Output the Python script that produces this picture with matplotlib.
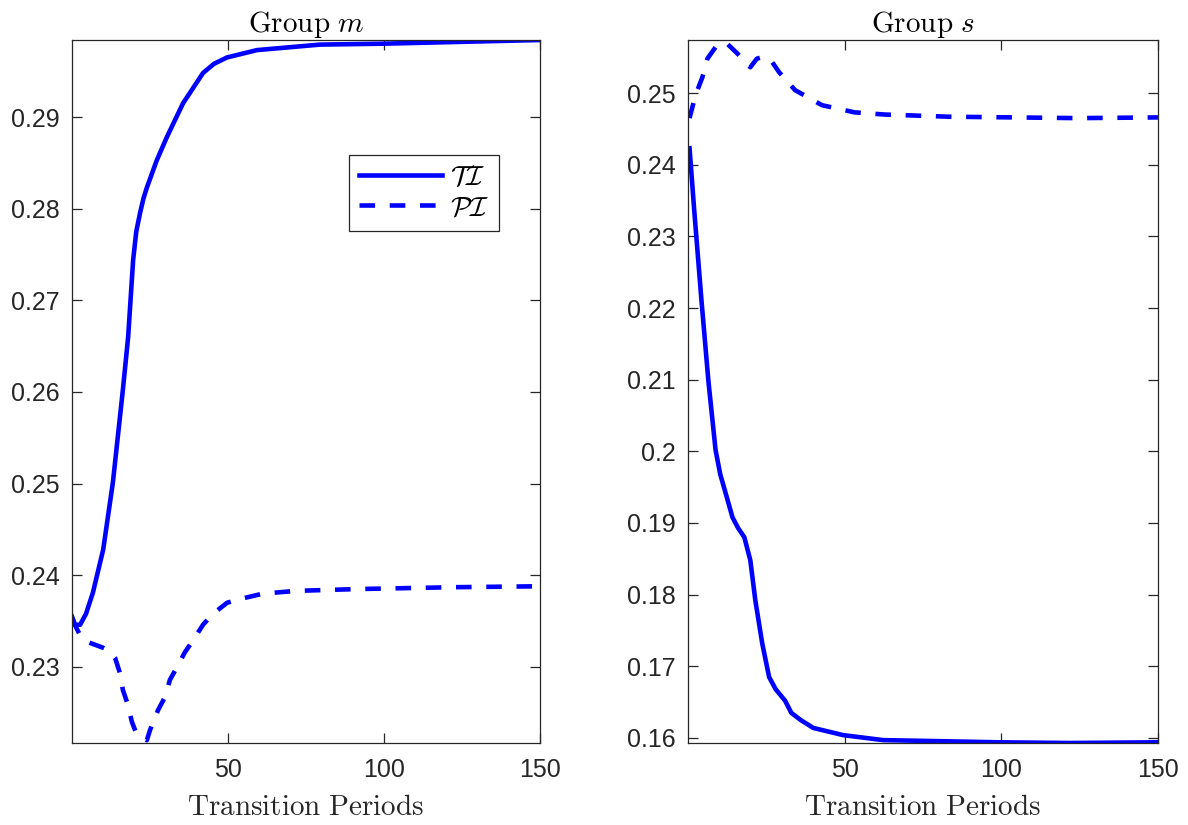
import matplotlib.pyplot as plt
from matplotlib.ticker import FuncFormatter

plt.rcParams['font.family'] = ['Liberation Sans', 'DejaVu Sans']
plt.rcParams['mathtext.fontset'] = 'cm'

# Group m
m_ti_x = [0, 1, 2.6, 4.5, 6.7, 10, 13.1, 16.3, 18, 19.6, 20.6, 21.8, 22.9, 24, 27.2,
          30.4, 35.6, 42, 45.5, 49.7, 59.3, 79.5, 100, 150]
m_ti_y = [0.2355, 0.2346, 0.2346, 0.2358, 0.2381, 0.2428, 0.2501, 0.2602, 0.2660,
          0.2744, 0.2775, 0.2795, 0.2811, 0.2823, 0.2853, 0.2878, 0.2915, 0.2948,
          0.2958, 0.2965, 0.2973, 0.2979, 0.2980, 0.2984]
m_pi_x = [0, 3, 5.1, 9.9, 12.2, 13.8, 15.4, 16.3, 17.9, 19.2, 20.8, 24, 25, 27.6, 29.8,
          31.4, 33.7, 36.2, 38.8, 42, 44.9, 49.7, 53.8, 61.2, 72, 92, 123, 150]
m_pi_y = [0.2352, 0.2332, 0.2327, 0.2321, 0.2317, 0.2310, 0.2293, 0.2275, 0.2259,
          0.2240, 0.2226, 0.2220, 0.2231, 0.2253, 0.2267, 0.2286, 0.2300, 0.2316,
          0.2329, 0.2346, 0.2357, 0.2370, 0.2374, 0.2380, 0.2383, 0.2385, 0.2387,
          0.2388]

# Group s
s_ti_x = [0.5, 2, 4.3, 6.5, 8.8, 10.3, 12, 14.2, 16, 18, 19.9, 21.5, 23.7, 25.9, 28,
          31, 33, 36, 40, 49.5, 62.3, 75, 98.7, 122, 150]
s_ti_y = [0.2423, 0.2336, 0.2211, 0.2099, 0.2002, 0.1968, 0.1942, 0.1908, 0.1893,
          0.1880, 0.1848, 0.1792, 0.1732, 0.1685, 0.1668, 0.1652, 0.1635, 0.1625,
          0.1614, 0.1604, 0.1597, 0.1596, 0.1594, 0.1593, 0.1594]
s_pi_x = [0.5, 2.4, 4.6, 6.2, 8.8, 12, 15.8, 19.9, 22, 24.3, 26.9, 29.1, 34.2, 42.8,
          53.2, 62.8, 83, 124.4, 150]
s_pi_y = [0.2465, 0.2497, 0.2522, 0.2548, 0.2564, 0.2571, 0.2555, 0.2536, 0.2548,
          0.2551, 0.2543, 0.2529, 0.2504, 0.2483, 0.2473, 0.2470, 0.2467, 0.2465,
          0.2466]

m_yticks = [0.23, 0.24, 0.25, 0.26, 0.27, 0.28, 0.29]
s_yticks = [0.16, 0.17, 0.18, 0.19, 0.2, 0.21, 0.22, 0.23, 0.24, 0.25]
xticks = [50, 100, 150]

fig = plt.figure(figsize=(11.88, 8.25), dpi=100)
ax1 = fig.add_axes([0.0606, 0.0994, 0.3939, 0.8521])
ax2 = fig.add_axes([0.5791, 0.0994, 0.3956, 0.8521])

dash = (0, (3.4, 3.2))
lw = 3.3
ax1.plot(m_ti_x, m_ti_y, color='blue', lw=lw, label=r'$\mathcal{TI}$')
ax1.plot(m_pi_x, m_pi_y, color='blue', lw=lw, linestyle=dash, label=r'$\mathcal{PI}$')
ax2.plot(s_ti_x, s_ti_y, color='blue', lw=lw)
ax2.plot(s_pi_x, s_pi_y, color='blue', lw=lw, linestyle=dash)

ax1.set_ylim(0.2217, 0.2984)
ax2.set_ylim(0.1593, 0.2574)
ax1.set_yticks(m_yticks)
ax2.set_yticks(s_yticks)

fmt = FuncFormatter(lambda v, p: '%g' % round(v, 4))
for ax, ttl in [(ax1, r'$\mathrm{Group}\ m$'), (ax2, r'$\mathrm{Group}\ s$')]:
    ax.set_xlim(0, 150)
    ax.set_xticks(xticks)
    ax.yaxis.set_major_formatter(fmt)
    ax.tick_params(direction='in', top=True, right=True, length=7, width=0.9,
                   labelsize=18, colors='#262626')
    ax.tick_params(axis='y', pad=9)
    ax.tick_params(axis='x', pad=11)
    for sp in ax.spines.values():
        sp.set_color('#262626')
        sp.set_linewidth(0.9)
    ax.set_title(ttl, fontsize=21, pad=6)
    ax.set_xlabel(r'$\mathrm{Transition\ Periods}$', fontsize=21, labelpad=8,
                  color='#262626')

leg = ax1.legend(loc='upper left', bbox_to_anchor=(0.592, 0.836), fontsize=20,
                 handlelength=3.0, handletextpad=0.3, labelspacing=0.15,
                 borderpad=0.35, fancybox=False, framealpha=1, borderaxespad=0)
leg.get_frame().set_edgecolor('#262626')
leg.get_frame().set_linewidth(0.9)

fig.savefig('out.png', dpi=100)
